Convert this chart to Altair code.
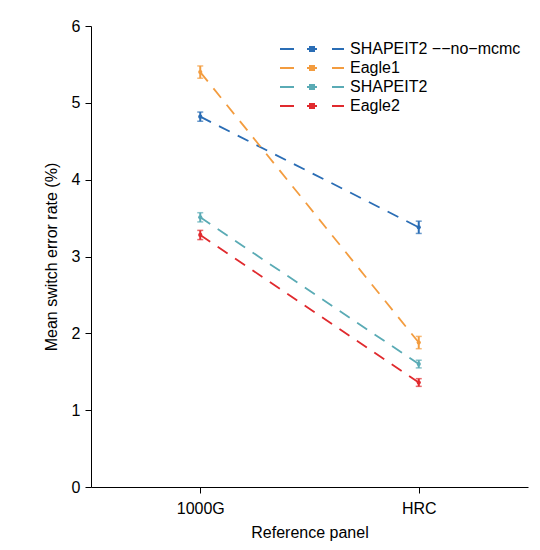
import altair as alt
import pandas as pd

panels = ["1000G", "HRC"]
series = ["SHAPEIT2 −−no−mcmc", "Eagle1", "SHAPEIT2", "Eagle2"]
colors = ["#2a6db5", "#f39c3f", "#5aabb5", "#e02a2e"]
means = {
    "SHAPEIT2 −−no−mcmc": [4.82, 3.38],
    "Eagle1": [5.40, 1.88],
    "SHAPEIT2": [3.51, 1.60],
    "Eagle2": [3.28, 1.36],
}
errs = {
    "SHAPEIT2 −−no−mcmc": [0.06, 0.08],
    "Eagle1": [0.08, 0.08],
    "SHAPEIT2": [0.06, 0.05],
    "Eagle2": [0.06, 0.05],
}

rows = []
for s in series:
    for i, p in enumerate(panels):
        m, e = means[s][i], errs[s][i]
        rows.append({"panel": p, "method": s, "mean": m, "lo": m - e, "hi": m + e})
df = pd.DataFrame(rows)

FONT = "Liberation Sans"
cscale = alt.Scale(domain=series, range=colors)

x = alt.X("panel:N", sort=panels, scale=alt.Scale(type="point", padding=0.5),
          axis=alt.Axis(title="Reference panel", labelAngle=0))
color = alt.Color("method:N", sort=series, scale=cscale,
                  legend=alt.Legend(
                      title=None, orient="none", legendX=210, legendY=12, padding=0,
                      symbolType="M-3.2,0L-1.8,0M-0.5,0L0.5,0M2,0L3.2,0M-0.2,-0.2L0.2,-0.2L0.2,0.2L-0.2,0.2Z",
                      symbolSize=400, symbolStrokeWidth=2, labelFontSize=16,
                      labelFont=FONT, labelOffset=27, rowPadding=0, labelLimit=400,
                      labelColor="black", symbolOpacity=1))

base = alt.Chart(df)

lines = base.mark_line(strokeDash=[12, 9], strokeWidth=1.8).encode(
    x=x,
    y=alt.Y("mean:Q", scale=alt.Scale(domain=[0, 6]),
            axis=alt.Axis(title="Mean switch error rate (%)", values=[0, 1, 2, 3, 4, 5, 6], format="d")),
    color=color,
    detail="method:N",
)
rules = base.mark_rule(strokeWidth=2).encode(
    x=x, y="lo:Q", y2="hi:Q", color=alt.Color("method:N", legend=None, scale=cscale))
tlo = base.mark_tick(size=6, thickness=1.5, orient="horizontal").encode(
    x=x, y="lo:Q", color=alt.Color("method:N", legend=None, scale=cscale))
thi = base.mark_tick(size=6, thickness=1.5, orient="horizontal").encode(
    x=x, y="hi:Q", color=alt.Color("method:N", legend=None, scale=cscale))
pts = base.mark_circle(size=18, opacity=1).encode(
    x=x, y="mean:Q", color=alt.Color("method:N", legend=None, scale=cscale))

chart = alt.layer(lines, rules, tlo, thi, pts).properties(
    width=437, height=461,
    padding={"left": 35, "top": 10, "right": 2, "bottom": 2},
).configure_view(stroke=None).configure_axis(
    grid=False, domainColor="black", tickColor="black", domainWidth=1, tickWidth=1,
    tickSize=6, labelFont=FONT, titleFont=FONT, labelFontSize=16, titleFontSize=16,
    labelColor="black", titleColor="black", titleFontWeight="normal", labelPadding=5,
).configure_axisY(titlePadding=12).configure_axisX(titlePadding=8, labelPadding=7)

chart.save("out.html", embed_options={"renderer": "svg", "actions": False})
